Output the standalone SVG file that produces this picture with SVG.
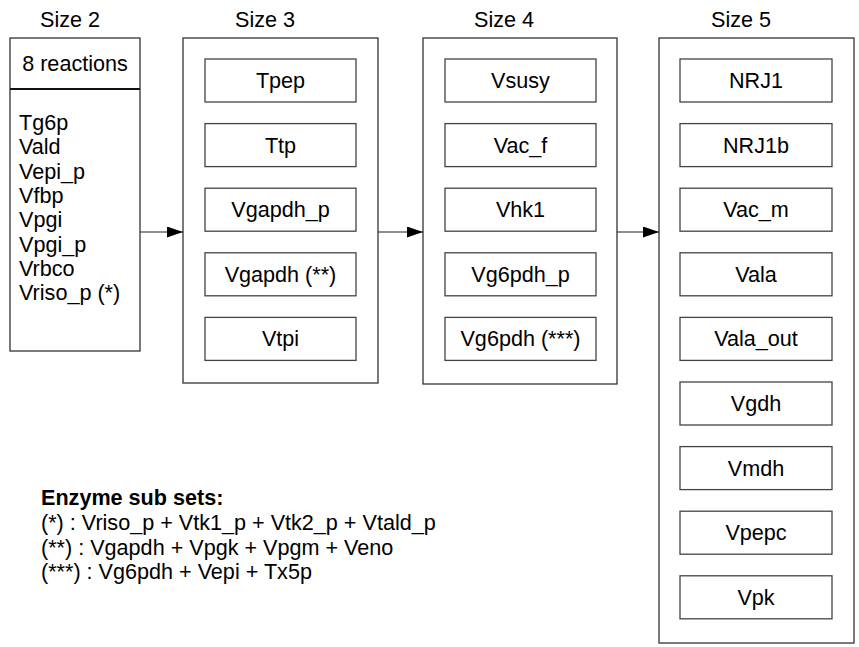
<svg xmlns="http://www.w3.org/2000/svg" width="859" height="647" viewBox="0 0 859 647">
  <defs>
    <style>
      text { font-family: "Liberation Sans", Arial, sans-serif; font-size: 21.6px; fill: #000; }
      .c { text-anchor: middle; }
      .outer { fill: #fff; stroke: #333; stroke-width: 1.3; }
      .inner { fill: #fff; stroke: #444; stroke-width: 1.3; }
      .sep { stroke: #111; stroke-width: 1.8; }
      .edge { stroke: #222; stroke-width: 1.2; fill: none; }
      .bold { font-weight: bold; }
    </style>
    <marker id="arrow" viewBox="0 0 16 11" refX="16" refY="5.5" markerWidth="16" markerHeight="11" markerUnits="userSpaceOnUse" orient="auto">
      <path d="M0,0 L16,5.5 L0,11 Z" fill="#000"/>
    </marker>
  </defs>
  <rect width="859" height="647" fill="#fff"/>

  <!-- column titles -->
  <g id="titles">
    <text x="70" y="27" class="c">Size 2</text>
    <text x="265" y="27" class="c">Size 3</text>
    <text x="504" y="27" class="c">Size 4</text>
    <text x="741" y="27" class="c">Size 5</text>
  </g>

  <!-- size 2 group: header and list -->
  <g id="size2">
    <rect class="outer" x="10" y="38" width="130" height="313"/>
    <line class="sep" x1="10" y1="89" x2="140" y2="89"/>
    <text x="75" y="70.5" class="c">8 reactions</text>
    <text x="19" y="130">Tg6p</text>
    <text x="19" y="154.3">Vald</text>
    <text x="19" y="178.6">Vepi_p</text>
    <text x="19" y="203">Vfbp</text>
    <text x="19" y="227.3">Vpgi</text>
    <text x="19" y="251.6">Vpgi_p</text>
    <text x="19" y="276">Vrbco</text>
    <text x="19" y="300.3">Vriso_p (*)</text>
  </g>

  <!-- size 3 group -->
  <g id="size3">
    <rect class="outer" x="183" y="38" width="195" height="345"/>
    <g id="Tpep"><rect class="inner" x="205" y="59" width="151" height="43"/><text x="280.5" y="88" class="c">Tpep</text></g>
    <g id="Ttp"><rect class="inner" x="205" y="123.6" width="151" height="43"/><text x="280.5" y="152.6" class="c">Ttp</text></g>
    <g id="Vgapdh_p"><rect class="inner" x="205" y="188.2" width="151" height="43"/><text x="280.5" y="217.2" class="c">Vgapdh_p</text></g>
    <g id="Vgapdh"><rect class="inner" x="205" y="252.8" width="151" height="43"/><text x="280.5" y="281.8" class="c">Vgapdh (**)</text></g>
    <g id="Vtpi"><rect class="inner" x="205" y="317.4" width="151" height="43"/><text x="280.5" y="346.4" class="c">Vtpi</text></g>
  </g>

  <!-- size 4 group -->
  <g id="size4">
    <rect class="outer" x="423" y="38" width="194" height="346"/>
    <g id="Vsusy"><rect class="inner" x="445" y="59" width="151" height="43"/><text x="520.5" y="88" class="c">Vsusy</text></g>
    <g id="Vac_f"><rect class="inner" x="445" y="123.6" width="151" height="43"/><text x="520.5" y="152.6" class="c">Vac_f</text></g>
    <g id="Vhk1"><rect class="inner" x="445" y="188.2" width="151" height="43"/><text x="520.5" y="217.2" class="c">Vhk1</text></g>
    <g id="Vg6pdh_p"><rect class="inner" x="445" y="252.8" width="151" height="43"/><text x="520.5" y="281.8" class="c">Vg6pdh_p</text></g>
    <g id="Vg6pdh"><rect class="inner" x="445" y="317.4" width="151" height="43"/><text x="520.5" y="346.4" class="c">Vg6pdh (***)</text></g>
  </g>

  <!-- size 5 group -->
  <g id="size5">
    <rect class="outer" x="659" y="38" width="195" height="605"/>
    <g id="NRJ1"><rect class="inner" x="680" y="59" width="152" height="43"/><text x="756" y="88" class="c">NRJ1</text></g>
    <g id="NRJ1b"><rect class="inner" x="680" y="123.6" width="152" height="43"/><text x="756" y="152.6" class="c">NRJ1b</text></g>
    <g id="Vac_m"><rect class="inner" x="680" y="188.2" width="152" height="43"/><text x="756" y="217.2" class="c">Vac_m</text></g>
    <g id="Vala"><rect class="inner" x="680" y="252.8" width="152" height="43"/><text x="756" y="281.8" class="c">Vala</text></g>
    <g id="Vala_out"><rect class="inner" x="680" y="317.4" width="152" height="43"/><text x="756" y="346.4" class="c">Vala_out</text></g>
    <g id="Vgdh"><rect class="inner" x="680" y="382" width="152" height="43"/><text x="756" y="411" class="c">Vgdh</text></g>
    <g id="Vmdh"><rect class="inner" x="680" y="446.6" width="152" height="43"/><text x="756" y="475.6" class="c">Vmdh</text></g>
    <g id="Vpepc"><rect class="inner" x="680" y="511.2" width="152" height="43"/><text x="756" y="540.2" class="c">Vpepc</text></g>
    <g id="Vpk"><rect class="inner" x="680" y="575.8" width="152" height="43"/><text x="756" y="604.8" class="c">Vpk</text></g>
  </g>

  <!-- connectors between size groups -->
  <g id="connectors">
    <line class="edge" x1="140" y1="232" x2="183" y2="232" marker-end="url(#arrow)"/>
    <line class="edge" x1="378" y1="232" x2="423" y2="232" marker-end="url(#arrow)"/>
    <line class="edge" x1="617" y1="232" x2="659" y2="232" marker-end="url(#arrow)"/>
  </g>

  <!-- legend of enzyme subsets -->
  <g id="legend">
    <text x="41" y="505" class="bold">Enzyme sub sets:</text>
    <text x="41" y="530">(*) : Vriso_p + Vtk1_p + Vtk2_p + Vtald_p</text>
    <text x="41" y="554.5">(**) : Vgapdh + Vpgk + Vpgm + Veno</text>
    <text x="41" y="579">(***) : Vg6pdh + Vepi + Tx5p</text>
  </g>
</svg>
